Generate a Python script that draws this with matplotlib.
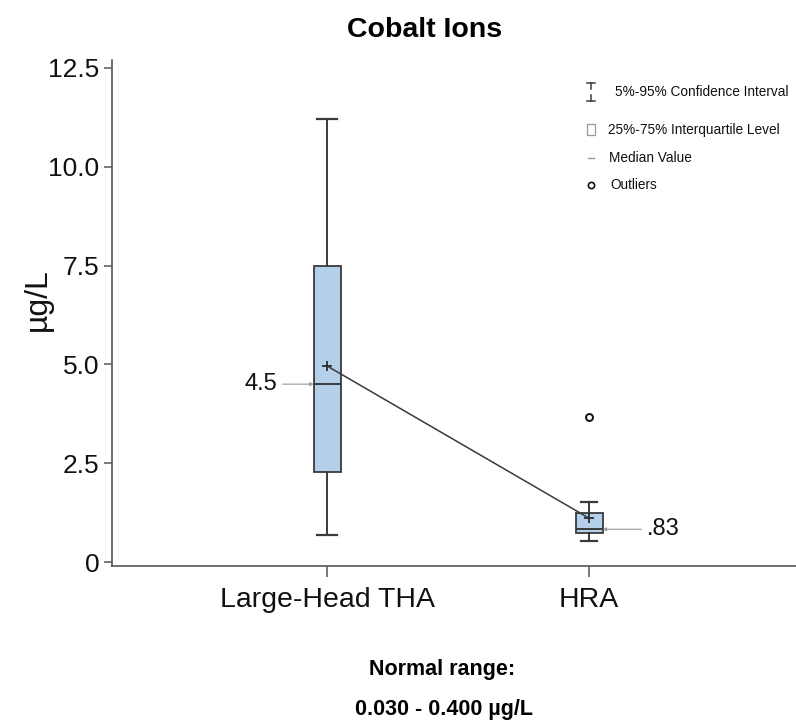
#!/usr/bin/env python3
"""Cobalt ion box plot: large-head THA vs HRA."""

import matplotlib

matplotlib.use("Agg")
import matplotlib.pyplot as plt

plt.rcParams["font.family"] = ["Liberation Sans", "DejaVu Sans"]

# data
groups = ["Large-Head THA", "HRA"]
positions = [1, 2]
q1 = [2.28, 0.73]
medians = [4.5, 0.83]
q3 = [7.5, 1.24]
whisker_low = [0.68, 0.53]
whisker_high = [11.22, 1.52]
means = [4.96, 1.11]
outliers = [[], [3.67]]
median_labels = ["4.5", ".83"]

legend_labels = [
    "5%-95% Confidence Interval",
    "25%-75% Interquartile Level",
    "Median Value",
    "Outliers",
]

BOX_FILL = "#b3cfea"
DARK = "#3a3a3a"
GRAY = "#9a9a9a"


def main() -> None:
    fig = plt.figure(figsize=(7.96, 7.24), dpi=100)
    ax = fig.add_axes([112 / 796, 158 / 724, 684 / 796, 506 / 724])

    stats = []
    for i, name in enumerate(groups):
        stats.append(
            {
                "label": name,
                "q1": q1[i],
                "med": medians[i],
                "q3": q3[i],
                "whislo": whisker_low[i],
                "whishi": whisker_high[i],
                "mean": means[i],
                "fliers": outliers[i],
            }
        )

    box_w = 0.103
    ax.bxp(
        stats,
        positions=positions,
        widths=box_w,
        capwidths=[0.078, 0.058],
        patch_artist=True,
        showmeans=True,
        boxprops=dict(facecolor=BOX_FILL, edgecolor=DARK, linewidth=1.3),
        whiskerprops=dict(color=DARK, linewidth=1.4),
        capprops=dict(color=DARK, linewidth=1.6),
        medianprops=dict(color=DARK, linewidth=1.4),
        meanprops=dict(marker="+", markeredgecolor="#111111", markersize=7, markeredgewidth=1.1),
        flierprops=dict(marker="o", markerfacecolor="none", markeredgecolor="#111111",
                        markersize=5, markeredgewidth=1.4),
        zorder=2,
    )

    # line joining the means
    ax.plot(positions, means, color=DARK, linewidth=1.1, zorder=3)

    # median call-outs
    ax.annotate("", xy=(positions[0] - box_w / 2, medians[0]),
                xytext=(positions[0] - 0.17, medians[0]),
                arrowprops=dict(arrowstyle="-|>", color=GRAY, lw=0.8, mutation_scale=5,
                                shrinkA=0, shrinkB=0))
    ax.text(positions[0] - 0.19, medians[0], median_labels[0], ha="right", va="center",
            fontsize=17, color="#111111")
    ax.annotate("", xy=(positions[1] + box_w / 2, medians[1]),
                xytext=(positions[1] + 0.2, medians[1]),
                arrowprops=dict(arrowstyle="-|>", color=GRAY, lw=0.8, mutation_scale=5,
                                shrinkA=0, shrinkB=0))
    ax.text(positions[1] + 0.22, medians[1], median_labels[1], ha="left", va="center",
            fontsize=17, color="#111111")

    # hand-drawn key in the top right corner
    tr = ax.transAxes
    kx = 0.700
    ky = [0.937, 0.862, 0.806, 0.753]
    dx, dy = 0.006, 0.009
    ax.plot([kx - dx, kx + dx], [ky[0] + 2 * dy, ky[0] + 2 * dy], color=DARK, lw=1.1, transform=tr)
    ax.plot([kx, kx], [ky[0] + 2 * dy, ky[0] + 0.6 * dy], color=DARK, lw=1.1, transform=tr)
    ax.plot([kx, kx], [ky[0] - 0.6 * dy, ky[0] - 2 * dy], color=DARK, lw=1.1, transform=tr)
    ax.plot([kx - dx, kx + dx], [ky[0] - 2 * dy, ky[0] - 2 * dy], color=DARK, lw=1.1, transform=tr)
    ax.add_patch(plt.Rectangle((kx - dx, ky[1] - 1.2 * dy), 2 * dx, 2.4 * dy, transform=tr,
                               facecolor="white", edgecolor=GRAY, lw=0.9))
    ax.plot([kx - 0.8 * dx, kx + 0.8 * dx], [ky[2], ky[2]], color=GRAY, lw=1.0, transform=tr)
    ax.plot([kx], [ky[3]], marker="o", markerfacecolor="none", markeredgecolor="#111111",
            markersize=4.5, markeredgewidth=1.2, transform=tr)
    text_x = [0.735, 0.725, 0.727, 0.728]
    for x, y, label in zip(text_x, ky, legend_labels):
        ax.text(x, y, label, transform=tr, ha="left", va="center", fontsize=9.8, color="#111111")

    ax.set_xlim(0.179, 2.79)
    ax.set_ylim(-0.1, 12.7)
    ax.set_yticks([0, 2.5, 5.0, 7.5, 10.0, 12.5], ["0", "2.5", "5.0", "7.5", "10.0", "12.5"])
    ax.set_xticks(positions, groups)
    ax.tick_params(axis="y", length=6, width=1.1, color="#555555", labelsize=19, pad=3,
                   labelcolor="#111111")
    ax.tick_params(axis="x", length=8, width=1.1, color="#555555", labelsize=20.5, pad=7,
                   labelcolor="#111111")
    for side in ("top", "right"):
        ax.spines[side].set_visible(False)
    for side in ("left", "bottom"):
        ax.spines[side].set_color("#555555")
        ax.spines[side].set_linewidth(1.2)

    fig.text(38 / 796, 1 - 300 / 724, "µg/L", rotation=90, ha="center", va="center",
             fontsize=23, color="#111111")
    fig.text(425 / 796, 1 - 30 / 724, "Cobalt Ions", ha="center", va="center",
             fontsize=20.5, fontweight="bold")
    fig.text(442 / 796, 1 - 670 / 724, "Normal range:", ha="center", va="center",
             fontsize=15.5, fontweight="bold")
    fig.text(444 / 796, 1 - 709 / 724, "0.030 - 0.400 µg/L", ha="center", va="center",
             fontsize=15.5, fontweight="bold")

    fig.savefig("out.png", dpi=100)
    plt.close(fig)


if __name__ == "__main__":
    main()
